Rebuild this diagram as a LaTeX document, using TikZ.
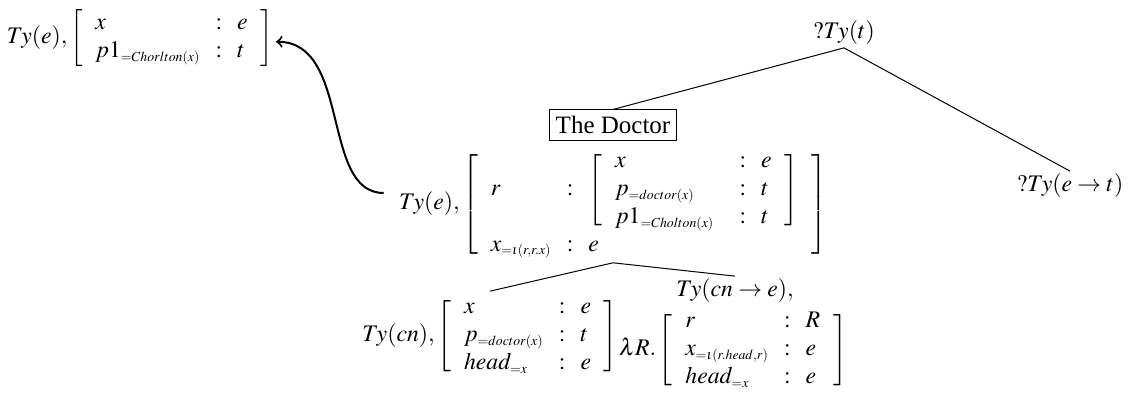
\documentclass[tikz,border=0pt]{standalone}
\usepackage{mathptmx}
\usepackage{fontspec}
\setmainfont{Liberation Serif}
\DeclareMathSizes{10}{9.5}{5.5}{4.5}
\setlength{\arraycolsep}{3pt}
\renewcommand{\arraystretch}{0.93}
\delimiterfactor=850
\newcommand{\lbr}{\left[\;}
\newcommand{\rbr}{\;\right]}

\begin{document}
\begin{tikzpicture}[x=0.4pt,y=-0.4pt,
  lbl/.style={inner sep=1pt},
  box/.style={draw,inner sep=2.5pt},
  link/.style={->,thick}]
\useasboundingbox (0,0) rectangle (1128,394);

\node[lbl] (root) at (844,33) {$?Ty(t)$};
\node[lbl] (pred) at (1070,186) {$?Ty(e\rightarrow t)$};
\node[box] (doctor) at (613,125) {The Doctor};
\node[lbl] (subj) at (613,204) {$Ty(e),\lbr\begin{array}{lcl}
  r & : & \lbr\begin{array}{lcl}
    x & : & e\\
    p_{=doctor(x)} & : & t\\
    p1_{=Cholton(x)}\hspace{4pt} & : & t
  \end{array}\rbr\\
  x_{=\iota(r,r.x)} & : & e
\end{array}\rbr$};
\node[lbl] (topl) at (140,38) {$Ty(e),\lbr\begin{array}{lcl}
  x & : & e\\
  p1_{=Chorlton(x)} & : & t
\end{array}\rbr$};
\node[lbl] (noun) at (490,336) {$Ty(cn),\lbr\begin{array}{lcl}
  x & : & e\\
  p_{=doctor(x)} & : & t\\
  head_{=x} & : & e
\end{array}\rbr$};
\node[lbl] (det) at (735,291) {$Ty(cn\rightarrow e),$};
\node[lbl] (detbody) at (733,350) {$\lambda R.\lbr\begin{array}{lcl}
  r & : & R\\
  x_{=\iota(r.head,r)} & : & e\\
  head_{=x} & : & e
\end{array}\rbr$};

\draw (root.south) -- (doctor.north);
\draw (root.south) -- (pred.north);
\draw (subj.south) -- (noun.north);
\draw (subj.south) -- (det.north);
\draw[link,shorten <=5pt] ([yshift=4.4pt]subj.west) to[out=180,in=0] ([yshift=-1.5pt]topl.east);
\end{tikzpicture}
\end{document}
